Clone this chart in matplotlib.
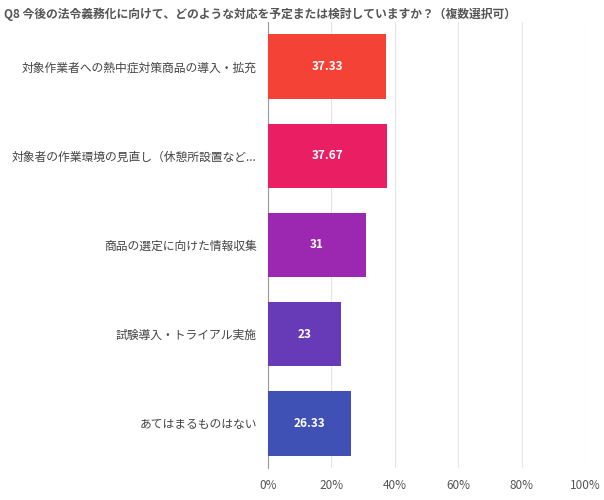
import matplotlib.pyplot as plt

plt.rcParams["font.family"] = "Noto Sans CJK JP"

categories = [
    "対象作業者への熱中症対策商品の導入・拡充",
    "対象者の作業環境の見直し（休憩所設置など...",
    "商品の選定に向けた情報収集",
    "試験導入・トライアル実施",
    "あてはまるものはない",
]
values = [37.33, 37.67, 31, 23, 26.33]
labels = ["37.33", "37.67", "31", "23", "26.33"]
colors = ["#F44336", "#E91E63", "#9C27B0", "#673AB7", "#3F51B5"]
ticks = [0, 20, 40, 60, 80, 100]

fig = plt.figure(figsize=(6.04, 5.0), dpi=100)
ax = fig.add_axes([0.4437, 0.064, 0.525, 0.892])

y = list(range(len(categories)))
ax.barh(y, values, height=0.72, color=colors, zorder=3)
for yi, v, lab in zip(y, values, labels):
    ax.text(v / 2, yi, lab, ha="center", va="center", color="white",
            fontsize=8.5, fontweight="bold", zorder=4)

ax.set_ylim(len(categories) - 0.5, -0.5)
ax.set_xlim(0, 100)
ax.set_yticks(y)
ax.set_yticklabels(categories, fontsize=8.5, color="#444444")
ax.set_xticks(ticks)
ax.set_xticklabels([f"{t}%" for t in ticks], fontsize=8.5, color="#555555")
ax.tick_params(length=0, pad=8)
ax.grid(axis="x", color="#e6e6e6", linewidth=0.8, zorder=0)
for s in ["top", "right", "bottom"]:
    ax.spines[s].set_visible(False)
ax.spines["left"].set_color("#999999")

fig.text(0.006, 0.985, "Q8 今後の法令義務化に向けて、どのような対応を予定または検討していますか？（複数選択可）",
         fontsize=8.5, fontweight="bold", color="#555555", ha="left", va="top")

fig.savefig("out.png", dpi=100)
